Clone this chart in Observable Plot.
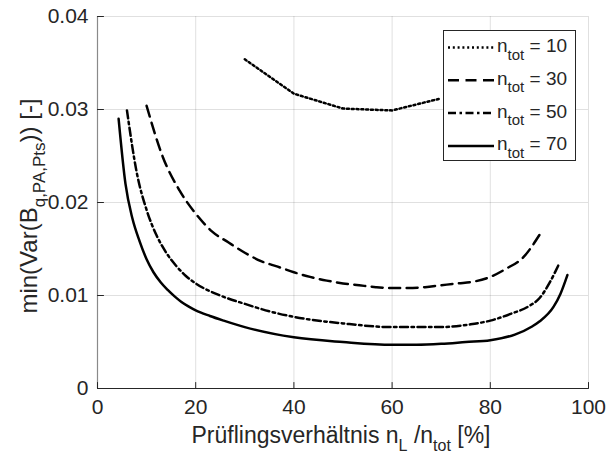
<!DOCTYPE html>
<html><head><meta charset="utf-8">
<script src="https://cdn.jsdelivr.net/npm/d3@7"></script>
<script src="https://cdn.jsdelivr.net/npm/@observablehq/plot@0.6"></script>
<style>body{margin:0;background:#fff}</style>
</head><body><div id="chart"></div>
<script>
// Series (n_tot levels) and their values
const nTot = [10, 30, 50, 70];
const x10 = [30, 40, 50, 60, 70];
const y10 = [0.0354, 0.0317, 0.0301, 0.0299, 0.0312];
const x30 = [10, 13.3, 16.7, 20, 23.3, 26.7, 30, 33.3, 36.7, 40, 43.3, 46.7, 50, 53.3, 56.7, 60, 63.3, 66.7, 70, 73.3, 76.7, 80, 83.3, 86.7, 90];
const y30 = [0.0304, 0.0249, 0.0213, 0.0188, 0.0169, 0.0157, 0.0146, 0.0137, 0.0131, 0.0125, 0.0120, 0.0116, 0.0113, 0.0111, 0.0109, 0.0108, 0.0108, 0.0109, 0.0111, 0.0113, 0.0115, 0.0120, 0.0129, 0.0141, 0.0165];
const x50 = [6, 8, 10, 12, 14, 16, 18, 20, 25, 30, 35, 40, 50, 60, 70, 76, 80, 84, 88, 90, 92, 94];
const y50 = [0.0299, 0.0232, 0.0192, 0.0165, 0.0146, 0.0132, 0.0121, 0.0113, 0.0100, 0.0091, 0.0083, 0.0077, 0.0070, 0.0066, 0.0066, 0.0069, 0.0073, 0.0080, 0.0089, 0.0097, 0.0113, 0.0134];
const x70 = [4.3, 5.7, 7.1, 8.6, 10, 11.4, 12.9, 14.3, 15.7, 17.1, 18.6, 20, 22.9, 25.7, 30, 40, 50, 60, 65, 70, 75, 80, 85, 88.6, 90, 92.9, 94.3, 95.7];
const y70 = [0.0290, 0.0220, 0.0183, 0.0158, 0.0139, 0.0125, 0.0114, 0.0106, 0.0099, 0.0093, 0.0088, 0.0084, 0.0078, 0.0073, 0.0066, 0.0055, 0.0050, 0.0047, 0.0047, 0.0048, 0.0050, 0.0052, 0.0058, 0.0067, 0.0072, 0.0088, 0.0102, 0.0122];
const xTicks = [0, 20, 40, 60, 80, 100];
const yTicks = [0, 0.01, 0.02, 0.03, 0.04];
const yTickLabels = ["0", "0.01", "0.02", "0.03", "0.04"];
const dashes = ["2,2.8", "11,6.5", "8,3.5,2.5,3.5", null];

const rows = (xs, ys, n) => xs.map((x, i) => ({x, y: ys[i], n}));
const seriesData = [rows(x10, y10, 10), rows(x30, y30, 30), rows(x50, y50, 50), rows(x70, y70, 70)];

const font = "'Liberation Sans', Arial, Helvetica, sans-serif";
const ink = "#262626";
const tickShape = {draw(ctx, l) { ctx.moveTo(0, 0); ctx.lineTo(0, -l); }};

const plot = Plot.plot({
  width: 606, height: 460,
  marginLeft: 97, marginRight: 18, marginTop: 16, marginBottom: 72,
  x: {domain: [0, 100]},
  y: {domain: [0, 0.04]},
  style: {fontFamily: font, fontSize: "21px", color: ink, background: "white"},
  marks: [
    Plot.gridX(xTicks, {stroke: ink, strokeOpacity: 0.14, strokeWidth: 1}),
    Plot.gridY(yTicks, {stroke: ink, strokeOpacity: 0.14, strokeWidth: 1}),
    ...seriesData.map((d, i) => Plot.line(d, {
      x: "x", y: "y", stroke: "black", strokeWidth: 2.5,
      strokeDasharray: dashes[i],
      curve: i === 0 ? "linear" : "monotone-x"
    })),
    Plot.ruleX([0], {stroke: "#8a8a8a", strokeWidth: 1.2}),
    Plot.ruleY([0], {stroke: ink, strokeWidth: 1.2}),
    Plot.vector(xTicks, {x: d => d, y: () => 0, length: 6, rotate: 0, anchor: "start", shape: tickShape, stroke: ink, strokeWidth: 1}),
    Plot.vector(yTicks, {x: () => 0, y: d => d, length: 6, rotate: 90, anchor: "start", shape: tickShape, stroke: ink, strokeWidth: 1}),
    Plot.axisX(xTicks, {tickSize: 0, tickPadding: 11, label: null, fill: ink, fontSize: 21}),
    Plot.axisY(yTicks, {tickSize: 0, tickPadding: 9, label: null, fill: ink, fontSize: 21,
      tickFormat: d => yTickLabels[yTicks.indexOf(d)]})
  ]
});
document.getElementById("chart").appendChild(plot);

const svg = d3.select(plot);
// X label
const xl = svg.append("text").attr("x", 341).attr("y", 443).attr("text-anchor", "middle")
  .attr("font-family", font).attr("font-size", 23).attr("fill", ink);
xl.append("tspan").text("Prüflingsverhältnis n");
xl.append("tspan").attr("font-size", 16).attr("dy", 8).text("L");
xl.append("tspan").attr("dy", -8).text(" /n");
xl.append("tspan").attr("font-size", 16).attr("dy", 8).text("tot");
xl.append("tspan").attr("dy", -8).text(" [%]");
// Y label
const yl = svg.append("text").attr("transform", "translate(37,206) rotate(-90)").attr("text-anchor", "middle")
  .attr("font-family", font).attr("font-size", 24).attr("fill", ink);
yl.append("tspan").text("min(Var(B");
yl.append("tspan").attr("font-size", 17).attr("dy", 8).text("q,PA,Pts");
yl.append("tspan").attr("dy", -8).text(")) [-]");

// Legend
const lg = svg.append("g");
lg.append("rect").attr("x", 443.5).attr("y", 30.5).attr("width", 132).attr("height", 130)
  .attr("fill", "white").attr("stroke", ink).attr("stroke-width", 1);
nTot.forEach((n, i) => {
  const cy = 47.5 + i * 32.8;
  lg.append("line").attr("x1", 448).attr("x2", 494).attr("y1", cy).attr("y2", cy)
    .attr("stroke", "black").attr("stroke-width", 2.5).attr("stroke-dasharray", dashes[i]);
  const t = lg.append("text").attr("x", 497).attr("y", cy + 4.5).attr("text-anchor", "start")
    .attr("font-family", font).attr("font-size", 19).attr("fill", ink);
  t.append("tspan").text("n");
  t.append("tspan").attr("font-size", 15).attr("dy", 7.5).text("tot");
  t.append("tspan").attr("dy", -7.5).text(" = " + n);
});
</script>
</body></html>
